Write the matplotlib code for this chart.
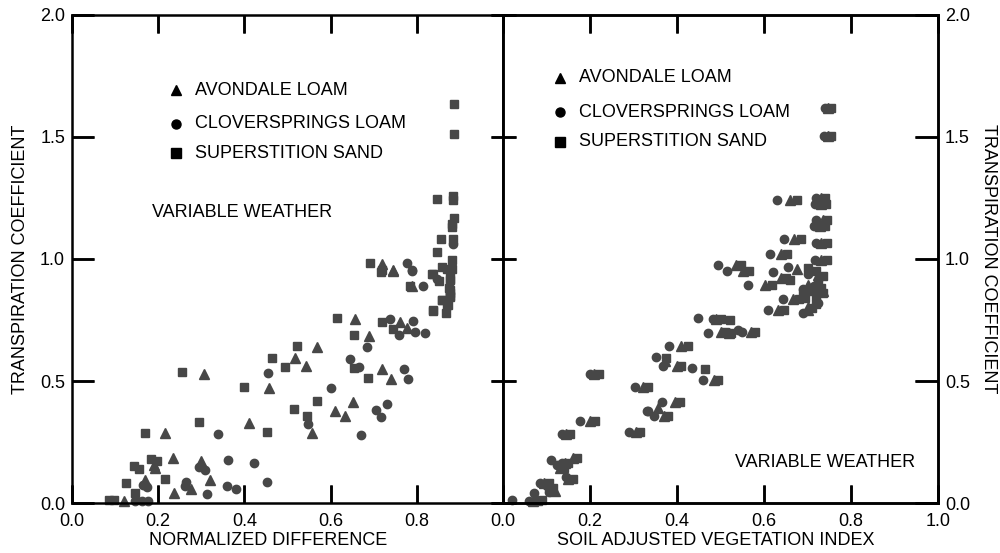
import matplotlib
matplotlib.use("Agg")
import matplotlib.pyplot as plt

plt.rcParams['font.family'] = ['Liberation Sans', 'DejaVu Sans']
plt.rcParams['font.size'] = 13

# ---- left panel: normalized difference vs transpiration coefficient ----
nd_avondale_x = [0.306, 0.41, 0.216, 0.19, 0.193, 0.234, 0.299, 0.17, 0.276, 0.32, 0.237, 0.12,
                 0.745, 0.657, 0.689, 0.568, 0.517, 0.543, 0.719, 0.74, 0.457, 0.652, 0.61, 0.633,
                 0.556, 0.761, 0.778, 0.79, 0.719, 0.745]
nd_avondale_y = [0.53, 0.326, 0.286, 0.155, 0.143, 0.184, 0.172, 0.094, 0.057, 0.094, 0.041, 0.008,
                 0.949, 0.753, 0.683, 0.638, 0.593, 0.56, 0.548, 0.507, 0.47, 0.413, 0.376, 0.356,
                 0.286, 0.74, 0.716, 0.888, 0.978, 0.953]

nd_clover_x = [0.339, 0.295, 0.309, 0.362, 0.165, 0.174, 0.265, 0.262, 0.36, 0.38, 0.313, 0.146,
               0.162, 0.176, 0.452, 0.422, 0.738, 0.759, 0.684, 0.645, 0.666, 0.455, 0.601, 0.731,
               0.705, 0.717, 0.548, 0.67, 0.77, 0.78, 0.791, 0.796, 0.819, 0.789, 0.847, 0.814,
               0.884, 0.777, 0.79]
nd_clover_y = [0.282, 0.147, 0.135, 0.176, 0.074, 0.065, 0.086, 0.07, 0.07, 0.057, 0.037, 0.008,
               0.008, 0.008, 0.086, 0.164, 0.753, 0.687, 0.638, 0.589, 0.556, 0.532, 0.47, 0.405,
               0.38, 0.352, 0.323, 0.278, 0.548, 0.507, 0.744, 0.70, 0.695, 0.949, 0.92, 0.888,
               1.063, 0.982, 0.953]

nd_sand_x = [0.255, 0.40, 0.295, 0.17, 0.183, 0.197, 0.144, 0.155, 0.125, 0.216, 0.146, 0.086,
             0.097, 0.452, 0.717, 0.615, 0.719, 0.745, 0.654, 0.522, 0.464, 0.494, 0.654, 0.687,
             0.568, 0.515, 0.545, 0.835, 0.784, 0.877, 0.877, 0.877, 0.877, 0.858, 0.872, 0.838,
             0.868, 0.847, 0.884, 0.884, 0.886, 0.882, 0.882, 0.856, 0.884, 0.847, 0.882, 0.691,
             0.719, 0.858, 0.87, 0.882, 0.838, 0.852, 0.877, 0.875, 0.877, 0.877, 0.858, 0.87,
             0.838, 0.886, 0.886]
nd_sand_y = [0.536, 0.474, 0.33, 0.286, 0.18, 0.172, 0.151, 0.139, 0.082, 0.098, 0.041, 0.012,
             0.012, 0.29, 0.945, 0.757, 0.74, 0.712, 0.687, 0.642, 0.593, 0.556, 0.552, 0.511,
             0.417, 0.384, 0.356, 0.937, 0.888, 0.949, 0.912, 0.871, 0.847, 0.83, 0.81, 0.785,
             0.777, 1.247, 1.26, 1.24, 1.166, 1.145, 1.133, 1.08, 1.08, 1.027, 0.994, 0.982,
             0.953, 0.969, 0.961, 0.957, 0.937, 0.908, 0.92, 0.883, 0.859, 0.843, 0.834, 0.81,
             0.79, 1.636, 1.513]

# ---- right panel: soil adjusted vegetation index ----
savi_avondale_x = [0.748, 0.746, 0.66, 0.73, 0.73, 0.735, 0.728, 0.67, 0.732, 0.64, 0.73, 0.535,
                   0.552, 0.676, 0.64, 0.602, 0.725, 0.70, 0.735, 0.667, 0.633, 0.70, 0.70, 0.49,
                   0.50, 0.52, 0.57, 0.41, 0.372, 0.40, 0.485, 0.21, 0.322, 0.395, 0.356, 0.37,
                   0.20, 0.145, 0.305, 0.16, 0.142, 0.13, 0.15, 0.095, 0.12, 0.07]
savi_avondale_y = [1.62, 1.505, 1.24, 1.25, 1.225, 1.16, 1.135, 1.084, 1.067, 1.022, 0.995, 0.977,
                   0.95, 0.957, 0.924, 0.892, 0.935, 0.895, 0.87, 0.838, 0.789, 0.79, 0.805, 0.753,
                   0.70, 0.695, 0.70, 0.642, 0.58, 0.56, 0.505, 0.53, 0.474, 0.413, 0.39, 0.356,
                   0.335, 0.282, 0.29, 0.184, 0.165, 0.145, 0.098, 0.08, 0.05, 0.01]

savi_clover_x = [0.74, 0.738, 0.63, 0.72, 0.718, 0.72, 0.715, 0.646, 0.72, 0.614, 0.717, 0.494,
                 0.515, 0.655, 0.62, 0.563, 0.70, 0.715, 0.69, 0.644, 0.609, 0.69, 0.725, 0.448,
                 0.482, 0.471, 0.54, 0.549, 0.382, 0.352, 0.368, 0.434, 0.46, 0.20, 0.303, 0.331,
                 0.365, 0.333, 0.347, 0.177, 0.135, 0.29, 0.11, 0.135, 0.125, 0.145, 0.085, 0.10,
                 0.105, 0.071, 0.021, 0.06]
savi_clover_y = [1.62, 1.505, 1.24, 1.25, 1.225, 1.16, 1.135, 1.084, 1.067, 1.022, 0.995, 0.977,
                 0.95, 0.969, 0.945, 0.892, 0.94, 0.89, 0.875, 0.838, 0.789, 0.78, 0.82, 0.757,
                 0.753, 0.695, 0.71, 0.70, 0.642, 0.597, 0.56, 0.552, 0.505, 0.53, 0.474, 0.376,
                 0.413, 0.376, 0.356, 0.335, 0.282, 0.29, 0.176, 0.165, 0.155, 0.105, 0.08, 0.07,
                 0.045, 0.041, 0.012, 0.01]

savi_sand_x = [0.755, 0.753, 0.675, 0.74, 0.742, 0.745, 0.74, 0.684, 0.745, 0.652, 0.745, 0.548,
               0.565, 0.65, 0.66, 0.618, 0.70, 0.72, 0.735, 0.725, 0.73, 0.71, 0.735, 0.69,
               0.72, 0.695, 0.68, 0.645, 0.71, 0.72, 0.50, 0.522, 0.51, 0.525, 0.58, 0.425,
               0.375, 0.41, 0.464, 0.495, 0.22, 0.333, 0.408, 0.38, 0.212, 0.155, 0.315, 0.17,
               0.15, 0.14, 0.16, 0.105, 0.115, 0.08, 0.09]
savi_sand_y = [1.62, 1.505, 1.24, 1.25, 1.225, 1.16, 1.135, 1.084, 1.067, 1.022, 0.995, 0.977,
               0.95, 0.924, 0.912, 0.892, 0.965, 0.95, 0.93, 0.90, 0.88, 0.87, 0.86, 0.86,
               0.85, 0.84, 0.838, 0.789, 0.80, 0.815, 0.753, 0.748, 0.70, 0.695, 0.70, 0.642,
               0.593, 0.56, 0.548, 0.505, 0.53, 0.474, 0.413, 0.356, 0.335, 0.282, 0.29, 0.184,
               0.165, 0.145, 0.098, 0.08, 0.06, 0.01, 0.012]

soil_names = ['AVONDALE LOAM', 'CLOVERSPRINGS LOAM', 'SUPERSTITION SAND']
soil_markers = ['^', 'o', 's']
soil_sizes = [6.5, 6.0, 5.8]
col = '#474747'
xt_left = [0, 0.2, 0.4, 0.6, 0.8]
xt_right = [0, 0.2, 0.4, 0.6, 0.8, 1.0]
yt = [0, 0.5, 1.0, 1.5, 2.0]
yt_labels = ['0.0', '0.5', '1.0', '1.5', '2.0']

fig = plt.figure(figsize=(10, 5.53), dpi=100)
ax1 = fig.add_axes([0.072, 0.0904, 0.431, 0.8825])
ax2 = fig.add_axes([0.503, 0.0904, 0.435, 0.8825])

left_sets = [(nd_avondale_x, nd_avondale_y), (nd_clover_x, nd_clover_y), (nd_sand_x, nd_sand_y)]
right_sets = [(savi_avondale_x, savi_avondale_y), (savi_clover_x, savi_clover_y), (savi_sand_x, savi_sand_y)]
for ax, sets in [(ax1, left_sets), (ax2, right_sets)]:
    for (xs, ys), m, ms in zip(sets, soil_markers, soil_sizes):
        ax.plot(xs, ys, ls='none', marker=m, ms=ms, color=col, clip_on=False)
    ax.set_xlim(0, 1.0)
    ax.set_ylim(0, 2.0)
    for s in ax.spines.values():
        s.set_linewidth(1.8)

ax1.set_xticks(xt_left, ['0.0', '0.2', '0.4', '0.6', '0.8'])
ax2.set_xticks(xt_right, ['0.0', '0.2', '0.4', '0.6', '0.8', '1.0'])
ax1.set_yticks(yt, yt_labels)
ax2.set_yticks(yt, [])
ax3 = ax2.twinx()
ax3.set_ylim(0, 2.0)
ax3.set_yticks(yt, yt_labels)
for s in ax3.spines.values():
    s.set_linewidth(1.8)

for ax in (ax1, ax2):
    ax.xaxis.set_ticks_position('both')
    ax.tick_params(axis='x', direction='in', length=13, width=1.8, color='black', pad=7)
ax1.yaxis.set_ticks_position('left')
ax1.tick_params(axis='y', direction='in', length=16, width=1.8, color='black', pad=5)
ax2.yaxis.set_ticks_position('left')
ax2.tick_params(axis='y', direction='inout', length=18, width=1.8, color='black')
ax3.tick_params(axis='y', direction='in', length=16.5, width=1.8, color='black', pad=5)

# tick strokes also drawn as line collections at the same tick positions
tk = dict(colors='black', linewidth=1.8, clip_on=False, zorder=5)
for ax, xt in [(ax1, xt_left), (ax2, xt_right)]:
    h = ax.get_position().height * 5.53 * 72
    ax.vlines(xt, 0, 13 / h, transform=ax.get_xaxis_transform(), **tk)
    ax.vlines(xt, 1 - 13 / h, 1, transform=ax.get_xaxis_transform(), **tk)
w1 = ax1.get_position().width * 10 * 72
w2 = ax2.get_position().width * 10 * 72
ax1.hlines(yt, 0, 16 / w1, transform=ax1.get_yaxis_transform(), **tk)
ax2.hlines(yt, -9 / w2, 9 / w2, transform=ax2.get_yaxis_transform(), **tk)
ax2.hlines(yt, 1 - 16.5 / w2, 1, transform=ax2.get_yaxis_transform(), **tk)

ax1.set_ylabel('TRANSPIRATION COEFFICIENT')
ax1.yaxis.set_label_coords(-0.10, 0.5)
ax3.set_ylabel('TRANSPIRATION COEFFICIENT', rotation=270, va='center')
ax3.yaxis.set_label_coords(1.115, 0.5)

ax1.set_xlabel('NORMALIZED DIFFERENCE')
ax1.xaxis.set_label_coords(0.455, -0.060)
ax2.set_xlabel('SOIL ADJUSTED VEGETATION INDEX')
ax2.xaxis.set_label_coords(0.49, -0.060)


# legends drawn as text with marker glyphs
def key(ax, mx, tx, ys):
    for name, m, y in zip(soil_names, soil_markers, ys):
        ax.plot([mx], [y], transform=ax.transAxes, ls='none', marker=m, ms=6.5,
                color='black', clip_on=False)
        ax.text(tx, y, name, transform=ax.transAxes, va='center', ha='left')


key(ax1, 0.241, 0.285, [0.846, 0.777, 0.717])
key(ax2, 0.131, 0.175, [0.871, 0.801, 0.740])

ax1.text(0.186, 0.596, 'VARIABLE WEATHER', transform=ax1.transAxes, va='center', ha='left')
ax2.text(0.533, 0.082, 'VARIABLE WEATHER', transform=ax2.transAxes, va='center', ha='left')

fig.savefig('out.png', dpi=100)
